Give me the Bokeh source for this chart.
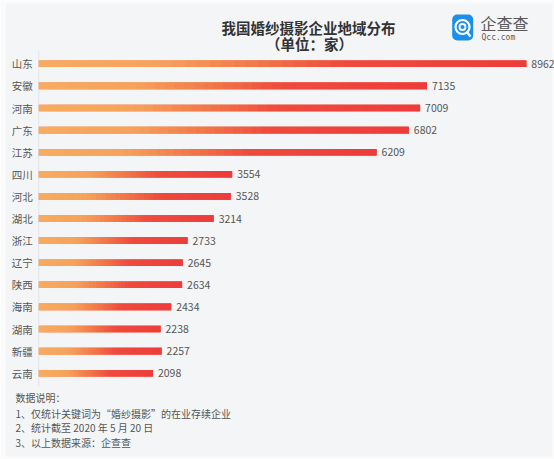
import numpy as np
from bokeh.plotting import figure
from bokeh.models import Range1d, BoxAnnotation
from bokeh.core.properties import value
from bokeh.embed import file_html
from bokeh.resources import INLINE

# ---------------- data ----------------
provinces = ["山东", "安徽", "河南", "广东", "江苏", "四川", "河北", "湖北",
             "浙江", "辽宁", "陕西", "海南", "湖南", "新疆", "云南"]
counts = [8962, 7135, 7009, 6802, 6209, 3554, 3528, 3214,
          2733, 2645, 2634, 2434, 2238, 2257, 2098]
title_text = "我国婚纱摄影企业地域分布"
unit_text = "（单位：家）"
brand_text = "企查查"
brand_url = "Qcc.com"
notes = ["数据说明：",
         "1、仅统计关键词为“婚纱摄影”的在业存续企业",
         "2、统计截至 2020 年 5 月 20 日",
         "3、以上数据来源：企查查"]

# ---------------- layout ----------------
W, H = 554, 459
PAGE = 0
ZERO_X = 38.3          # page px where value 0 sits
PX_PER_UNIT = 0.0544
ROW0_Y = 63.3          # page px of first row
ROW_STEP = 22.1
U = 1.0 / PX_PER_UNIT

def X(px):
    return (px - ZERO_X) * U

def Y(py):
    return (py - ROW0_Y) / ROW_STEP

BG = "#f4f5f7"
TXT = "#555555"
FONT = value("Noto Sans CJK SC")

p = figure(width=W, height=H,
           x_range=Range1d(X(PAGE), X(PAGE + W)),
           y_range=Range1d(Y(PAGE + H), Y(PAGE)),
           x_axis_type=None, y_axis_type=None,
           output_backend="svg", toolbar_location=None, min_border=0)
p.grid.visible = False
p.outline_line_color = None
p.background_fill_color = "#fbfbfc"
p.border_fill_color = "#fbfbfc"

# gray panel with thin light border
p.add_layout(BoxAnnotation(left=X(5), right=X(552), top=Y(3), bottom=Y(456),
                           fill_color=BG, fill_alpha=1.0, line_color=None,
                           level="underlay"))

rows = list(range(len(provinces)))

# faint baseline axis
p.segment(x0=[0], y0=[-0.6], x1=[0], y1=[len(rows) - 0.4],
          line_color="#e3e4e8", line_width=1)

# gradient bars
stops = [(0.0, (248, 171, 96)), (0.25, (247, 162, 91)), (0.45, (242, 118, 72)),
         (0.62, (239, 75, 62)), (1.0, (238, 59, 59))]

def grad(t):
    for (t0, c0), (t1, c1) in zip(stops[:-1], stops[1:]):
        if t <= t1:
            f = (t - t0) / (t1 - t0)
            c = [int(round(a + (b - a) * f)) for a, b in zip(c0, c1)]
            return "#%02x%02x%02x" % tuple(c)
    return "#%02x%02x%02x" % stops[-1][1]

BAR_H = 0.3
# solid base under each bar (hides seams between gradient pieces)
p.hbar(y=rows, left=[0] * len(rows), right=counts, height=BAR_H,
       fill_color=grad(0.5), line_color=None)

N = 40
lefts, rights, ys, cols = [], [], [], []
for r, v in zip(rows, counts):
    for k in range(N):
        lefts.append(v * k / N)
        rights.append(min(v, v * (k + 2) / N))
        ys.append(r)
        cols.append(grad((k + 0.5) / N))
p.hbar(y=ys, left=lefts, right=rights, height=BAR_H,
       fill_color=cols, line_color=None)

# value labels
p.text(x=counts, y=rows, text=[str(c) for c in counts], x_offset=5,
       text_align="left", text_baseline="middle", text_font=FONT,
       text_font_size="10.5px", text_color=TXT)

# category labels
p.text(x=[0] * len(rows), y=rows, text=provinces, x_offset=-6,
       text_align="right", text_baseline="middle", text_font=FONT,
       text_font_size="10.5px", text_color=TXT)

# title
p.text(x=[X(308)], y=[Y(26.7)], text=[title_text], text_align="center",
       text_baseline="middle", text_font=FONT, text_font_style="bold",
       text_font_size="14.5px", text_color="#333333")
p.text(x=[X(309)], y=[Y(42.7)], text=[unit_text], text_align="center",
       text_baseline="middle", text_font=FONT, text_font_style="bold",
       text_font_size="14.5px", text_color="#333333")

# logo
p.add_layout(BoxAnnotation(left=X(451.7), right=X(472.7), top=Y(14), bottom=Y(40),
                           fill_color="#1c8fe8", fill_alpha=1.0, line_color=None,
                           border_radius=5, level="underlay"))
p.scatter(x=[X(462)], y=[Y(26.5)], size=14, marker="circle", fill_alpha=0,
          line_color="white", line_width=2.2)
p.scatter(x=[X(462)], y=[Y(26.5)], size=6, marker="circle", fill_alpha=0,
          line_color="white", line_width=1.8)
p.segment(x0=[X(466)], y0=[Y(31)], x1=[X(470)], y1=[Y(36)],
          line_color="white", line_width=2.2)
p.text(x=[X(480)], y=[Y(22.5)], text=[brand_text], text_align="left",
       text_baseline="middle", text_font=FONT, text_font_size="16px",
       text_color="#595959")
p.text(x=[X(481)], y=[Y(36.5)], text=[brand_url], text_align="left",
       text_baseline="middle", text_font=value("DejaVu Sans Mono"), text_font_size="8px",
       text_color="#595959")

# notes
for line, py in zip(notes, [396.7, 412.7, 427.3, 441.7]):
    p.text(x=[X(15)], y=[Y(py)], text=[line], text_align="left",
           text_baseline="middle", text_font=FONT, text_font_size="10px",
           text_color=TXT)

open("out.html", "w").write(file_html(p, INLINE))
